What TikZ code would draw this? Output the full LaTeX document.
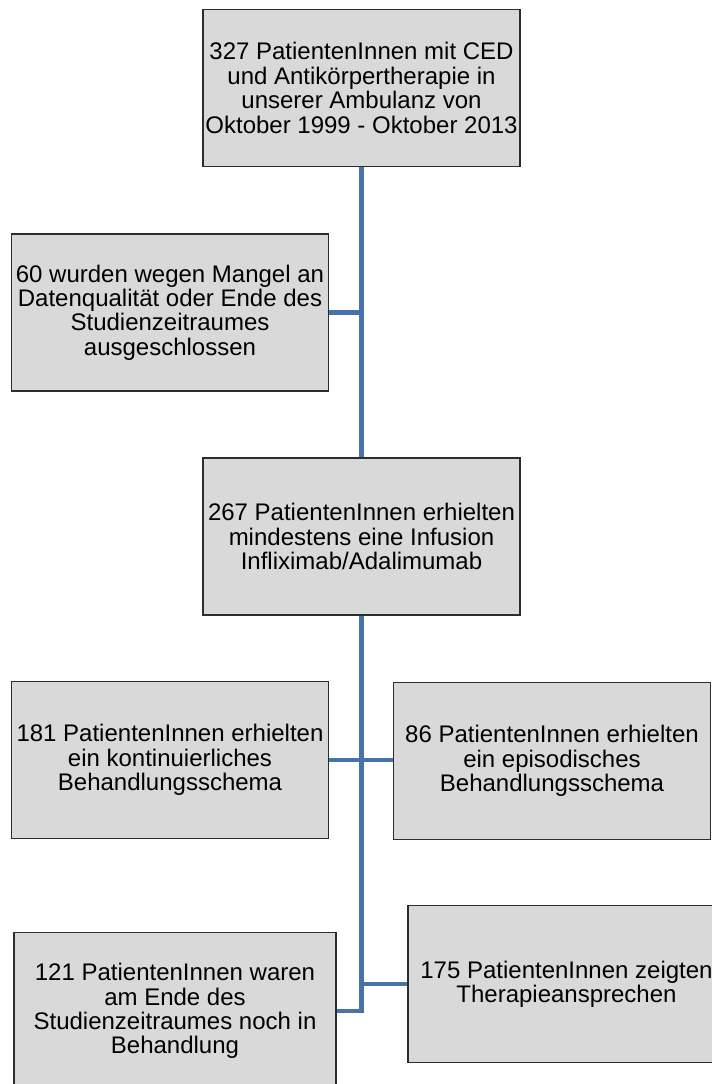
\documentclass[tikz,border=0pt]{standalone}
\usepackage{fontspec}
\setmainfont{Liberation Sans}
\usepackage{tikz}
\usetikzlibrary{calc}
\definecolor{linkblue}{RGB}{72,114,172}
\definecolor{boxgray}{RGB}{217,217,217}
\definecolor{boxline}{RGB}{45,45,45}
\tikzset{
  flowbox/.style={draw=boxline, line width=0.9pt, fill=boxgray, minimum width=158.5pt, minimum height=78.5pt, align=center, inner sep=0pt, font=\fontsize{12}{12.2}\selectfont},
  flowline/.style={draw=linkblue, line width=2.4pt}
}

\begin{document}
\begin{tikzpicture}[x=0.5pt, y=-0.5pt]
			%%%%% START %%%%%
			
			\clip (0, 0) rectangle (712, 1084);
			
			\node[flowbox] (total) at (361.5, 88) {327 PatientenInnen mit CED\\und Antikörpertherapie in\\unserer Ambulanz von\\Oktober 1999 - Oktober 2013};
			\node[flowbox] (excluded) at (170, 312.5) {60 wurden wegen Mangel an\\Datenqualität oder Ende des\\Studienzeitraumes\\ausgeschlossen};
			\node[flowbox] (infusion) at (361.5, 536.5) {267 PatientenInnen erhielten\\mindestens eine Infusion\\Infliximab/Adalimumab};
			
			\node[flowbox] (continuous) at (170, 760) {181 PatientenInnen erhielten\\ein kontinuierliches\\Behandlungsschema};
			\node[flowbox] (episodic) at (552, 761) {86 PatientenInnen erhielten\\ein episodisches\\Behandlungsschema};
			
			\node[flowbox, minimum width=161pt] (ongoing) at (175, 1011) {121 PatientenInnen waren\\am Ende des\\Studienzeitraumes noch in\\Behandlung};
			\node[flowbox] (response) at (566.5, 984) {175 PatientenInnen zeigten\\Therapieansprechen};
			
			\draw[flowline] (total.south) -- (infusion.north);
			\draw[flowline] (excluded.east) -- (excluded.east -| total.south);
			
			\draw[flowline] (infusion.south) |- (ongoing.east);
			\draw[flowline] (continuous.east) -- (episodic.west |- continuous.east);
			\draw[flowline] (response.west) -- (response.west -| infusion.south);
			
			%%%%% END %%%%%
\end{tikzpicture}
\end{document}
